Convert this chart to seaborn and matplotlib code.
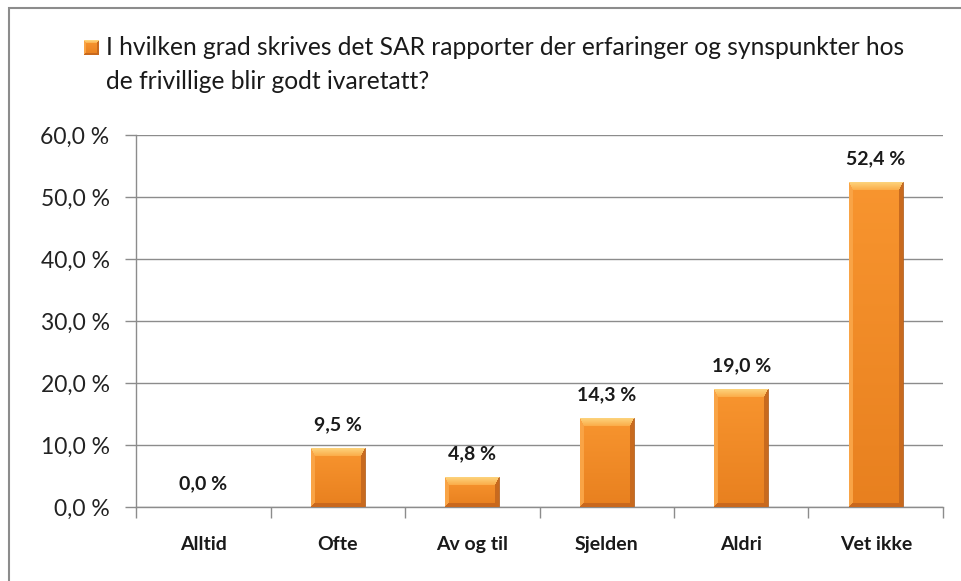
import numpy as np
import pandas as pd
import matplotlib
matplotlib.use("Agg")
import matplotlib.pyplot as plt
from matplotlib.colors import to_rgb
from matplotlib.patches import Rectangle
import seaborn as sns

# data
categories = ["Alltid", "Ofte", "Av og til", "Sjelden", "Aldri", "Vet ikke"]
values = [0.0, 9.5, 4.8, 14.3, 19.0, 52.4]
yticks = [0, 10, 20, 30, 40, 50, 60]
legend_label = ("I hvilken grad skrives det SAR rapporter der erfaringer og synspunkter hos\n"
                "de frivillige blir godt ivaretatt?")

W, H, DPI = 962, 581, 100
AX_L, AX_R, AX_T, AX_B = 136, 943, 135, 507
BAR_W = 0.4


def bevel_image(w, h, bt=8, bs=4, bb=4):
    """Excel-like bevelled orange fill, built at pixel size w x h."""
    w, h = max(int(round(w)), 2), max(int(round(h)), 2)
    r = np.arange(h)[:, None] * np.ones((1, w))
    c = np.ones((h, 1)) * np.arange(w)[None, :]
    # distances to each edge, scaled by the bevel width of that edge
    dist = np.stack([r / bt, (h - 1 - r) / bb, c / bs, (w - 1 - c) / bs])
    edge = dist.argmin(axis=0)
    near = dist.min(axis=0) < 1
    t = (r / max(h - 1, 1))[..., None]
    inner = (1 - t) * np.array(to_rgb("#f8952f")) + t * np.array(to_rgb("#e8801f"))
    img = inner.copy()
    # top strip fades from pale yellow to orange
    rt = np.clip(r / bt, 0, 1)[..., None]
    top = (1 - rt) * np.array(to_rgb("#fdd27a")) + rt * np.array(to_rgb("#fbaa45"))
    m = near & (edge == 0)
    img[m] = top[m]
    m = near & (edge == 1)
    img[m] = to_rgb("#c9691d")
    m = near & (edge == 2)
    img[m] = to_rgb("#f9a446")
    m = near & (edge == 3)
    img[m] = to_rgb("#c86a1e")
    return img


sns.set_theme(style="white")
plt.rcParams["font.family"] = ["Lato", "DejaVu Sans"]

df = pd.DataFrame({"kategori": categories, "andel": values})

fig = plt.figure(figsize=(W / DPI, H / DPI), dpi=DPI)
fig.patch.set_facecolor("white")
ax = fig.add_axes([AX_L / W, 1 - AX_B / H, (AX_R - AX_L) / W, (AX_B - AX_T) / H])

sns.barplot(data=df, x="kategori", y="andel", color="#f28c28", width=BAR_W,
            edgecolor="#a9520f", linewidth=0.5, ax=ax, zorder=2)

ymax = yticks[-1]
px_per_cat = (AX_R - AX_L) / len(categories)
px_per_unit = (AX_B - AX_T) / ymax
for patch, v in zip(ax.patches, values):
    if v <= 0:
        continue
    x0 = patch.get_x()
    x1 = x0 + patch.get_width()
    img = bevel_image(patch.get_width() * px_per_cat, v * px_per_unit)
    im = ax.imshow(img, extent=[x0, x1, 0, v], aspect="auto", zorder=3,
                   interpolation="bilinear")
    im.set_clip_path(patch)

ax.set_xlim(-0.5, len(categories) - 0.5)
ax.set_ylim(0, ymax)

# value labels
for i, v in enumerate(values):
    ax.annotate(f"{v:.1f} %".replace(".", ","), (i, v), xytext=(0, 17),
                textcoords="offset points", ha="center", va="center",
                fontsize=14, fontweight="bold", color="#1a1a1a")

# axes styling
grey = "#8c8c8c"
ax.set_yticks(yticks)
ax.set_yticklabels([f"{t:.1f} %".replace(".", ",") for t in yticks])
ax.yaxis.grid(True, color=grey, lw=1)
ax.set_axisbelow(True)
ax.tick_params(axis="y", length=8, width=1, color=grey, direction="out",
               pad=11, labelsize=16.5, labelcolor="#222222", left=True)

ax.set_xticks(np.arange(-0.5, len(categories)))
ax.set_xticklabels([])
ax.set_xticks(range(len(categories)), minor=True)
ax.set_xticklabels(categories, minor=True, fontweight="bold")
ax.tick_params(axis="x", which="major", length=8, width=1, color=grey,
               direction="out", bottom=True)
ax.tick_params(axis="x", which="minor", length=0, pad=21, labelsize=14,
               labelcolor="#1a1a1a")

for s in ["top", "right"]:
    ax.spines[s].set_visible(False)
for s in ["left", "bottom"]:
    ax.spines[s].set_color(grey)
    ax.spines[s].set_linewidth(1)
ax.set_xlabel("")
ax.set_ylabel("")

# legend: bevelled marker + two-line text
mk = fig.add_axes([84 / W, 1 - 55 / H, 15 / W, 15 / H])
mk.imshow(bevel_image(15, 15, bt=3, bs=2, bb=2), aspect="auto", interpolation="bilinear")
mk.axis("off")
for k, line in enumerate(legend_label.split("\n")):
    fig.text(106 / W, 1 - (55 + 34 * k) / H, line, ha="left", va="baseline",
             fontsize=17.7, color="#1a1a1a", transform=fig.transFigure)

# chart frame (right/bottom edges fall outside the picture)
fig.patches.append(Rectangle((9 / W, -0.05), 1.0, 1 - 8 / H + 0.05,
                             transform=fig.transFigure, fill=False,
                             ec="#8c8c8c", lw=1.5))

fig.savefig("out.png", dpi=DPI)
